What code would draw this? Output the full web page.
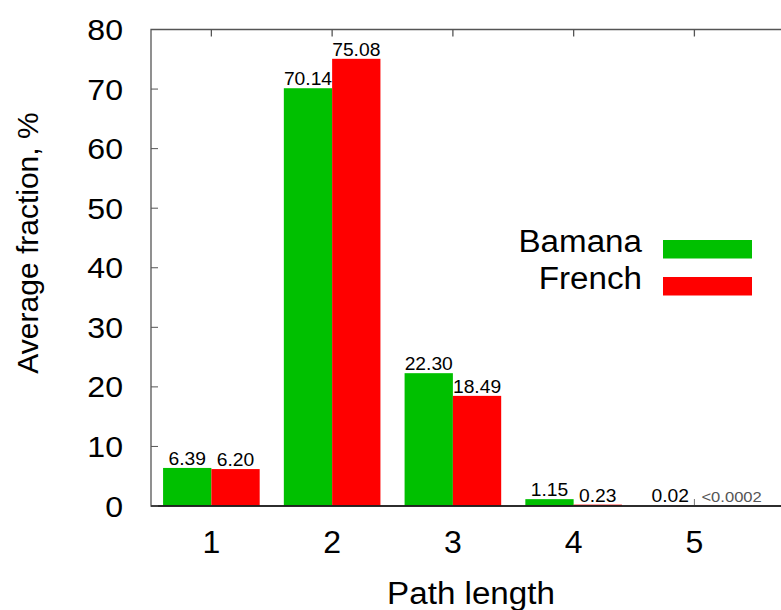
<!DOCTYPE html>
<html>
<head>
<meta charset="utf-8">
<script src="https://cdn.jsdelivr.net/npm/d3@7"></script>
<style>
  body { margin: 0; background: #fff; }
  text { font-family: "Liberation Sans", Arial, sans-serif; }
</style>
</head>
<body>
<div id="wrapper"></div>
<script>
// Data
const categories = [1, 2, 3, 4, 5];
const seriesNames = ["Bamana", "French"];
const bamana = [6.39, 70.14, 22.30, 1.15, 0.02];
const french = [6.20, 75.08, 18.49, 0.23, 0.0002];
const bamanaLabels = ["6.39", "70.14", "22.30", "1.15", "0.02"];
const frenchLabels = ["6.20", "75.08", "18.49", "0.23", "<0.0002"];
const yTicks = [0, 10, 20, 30, 40, 50, 60, 70, 80];
const colors = ["#00c000", "#ff0000"];

// Dimensions
let dimensions = {
  width: 781,
  height: 610,
  margin: { top: 29.5, right: -10, bottom: 104, left: 151 },
};
dimensions.boundedWidth =
  dimensions.width - dimensions.margin.left - dimensions.margin.right;
dimensions.boundedHeight =
  dimensions.height - dimensions.margin.top - dimensions.margin.bottom;

const svg = d3
  .select("#wrapper")
  .append("svg")
  .attr("width", dimensions.width)
  .attr("height", dimensions.height);
const bounds = svg
  .append("g")
  .attr("transform", `translate(${dimensions.margin.left},${dimensions.margin.top})`);

// Scales
const xScale = d3
  .scaleLinear()
  .domain([0.5, 5.8])
  .range([0, dimensions.boundedWidth]);
const yScale = d3
  .scaleLinear()
  .domain([0, 80])
  .range([dimensions.boundedHeight, 0]);
const barW = xScale(1.4) - xScale(1);

// text is a little wider than Arial in the original
const wide = (x, y) => `translate(${x},${y}) scale(1.07,1)`;

// Bars
const rows = categories.map((c, i) => ({ c, values: [bamana[i], french[i]], labels: [bamanaLabels[i], frenchLabels[i]] }));
rows.forEach((r) => {
  r.values.forEach((v, s) => {
    if (r.c === 5) return; // values too small to show a bar
    bounds
      .append("rect")
      .attr("x", xScale(r.c) + (s === 0 ? -barW : 0))
      .attr("y", yScale(v))
      .attr("width", barW)
      .attr("height", yScale(0) - yScale(v))
      .attr("fill", colors[s]);
  });
});

// Frame and ticks
bounds
  .append("path")
  .attr("d", `M${dimensions.boundedWidth},0H0V${dimensions.boundedHeight}H${dimensions.boundedWidth}`)
  .attr("fill", "none")
  .attr("stroke", "#555")
  .attr("stroke-width", 1.3);
bounds
  .append("line")
  .attr("x1", 0).attr("x2", dimensions.boundedWidth)
  .attr("y1", dimensions.boundedHeight).attr("y2", dimensions.boundedHeight)
  .attr("stroke", "#111").attr("stroke-width", 1.5);

bounds
  .selectAll(".ytick")
  .data(yTicks)
  .join("line")
  .attr("x1", 0).attr("x2", 7)
  .attr("y1", (d) => yScale(d)).attr("y2", (d) => yScale(d))
  .attr("stroke", "#555");
bounds
  .selectAll(".ylab")
  .data(yTicks)
  .join("text")
  .attr("transform", (d) => wide(-28, yScale(d) + 10.5))
  .attr("text-anchor", "end")
  .attr("font-size", 30)
  .text((d) => d);

bounds
  .selectAll(".xtick")
  .data(categories)
  .join("line")
  .attr("x1", (d) => xScale(d)).attr("x2", (d) => xScale(d))
  .attr("y1", 0).attr("y2", 7)
  .attr("stroke", "#555").attr("stroke-width", 1.3);
bounds
  .selectAll(".xlab")
  .data(categories)
  .join("text")
  .attr("x", (d) => xScale(d))
  .attr("y", dimensions.boundedHeight + 47)
  .attr("text-anchor", "middle")
  .attr("font-size", 32)
  .text((d) => d);

// Value labels
rows.forEach((r) => {
  // Bamana
  bounds
    .append("text")
    .attr("transform", wide(xScale(r.c) - barW / 2, Math.min(yScale(r.values[0]) - 3, dimensions.boundedHeight - 4)))
    .attr("text-anchor", "middle")
    .attr("font-size", 18)
    .attr("fill", "#000")
    .text(r.labels[0]);
  if (r.c === 5) {
    bounds
      .append("line")
      .attr("x1", xScale(r.c)).attr("x2", xScale(r.c))
      .attr("y1", dimensions.boundedHeight - 7).attr("y2", dimensions.boundedHeight - 1)
      .attr("stroke", "#777");
    bounds
      .append("text")
      .attr("transform", wide(xScale(r.c) + 7, dimensions.boundedHeight - 4))
      .attr("font-size", 15.5)
      .attr("fill", "#555")
      .text(r.labels[1]);
  } else {
    bounds
      .append("text")
      .attr("transform", wide(xScale(r.c) + barW / 2, Math.min(yScale(r.values[1]) - 3, dimensions.boundedHeight - 4)))
      .attr("text-anchor", "middle")
      .attr("font-size", 18)
      .attr("fill", "#000")
      .text(r.labels[1]);
  }
});

// Axis titles
svg
  .append("text")
  .attr("transform", "translate(38,243) rotate(-90)")
  .attr("text-anchor", "middle")
  .attr("font-size", 30)
  .text("Average fraction, %");
svg
  .append("text")
  .attr("transform", wide(471, 604))
  .attr("text-anchor", "middle")
  .attr("font-size", 31)
  .text("Path length");

// Legend
const legend = svg.append("g").attr("transform", "translate(642,0)");
seriesNames.forEach((name, i) => {
  const base = 252 + i * 37;
  legend
    .append("text")
    .attr("transform", wide(0, base))
    .attr("text-anchor", "end")
    .attr("font-size", 31)
    .text(name);
  legend
    .append("rect")
    .attr("x", 21)
    .attr("y", 240 + i * 37)
    .attr("width", 89)
    .attr("height", 18.5)
    .attr("fill", colors[i]);
});
</script>
</body>
</html>
